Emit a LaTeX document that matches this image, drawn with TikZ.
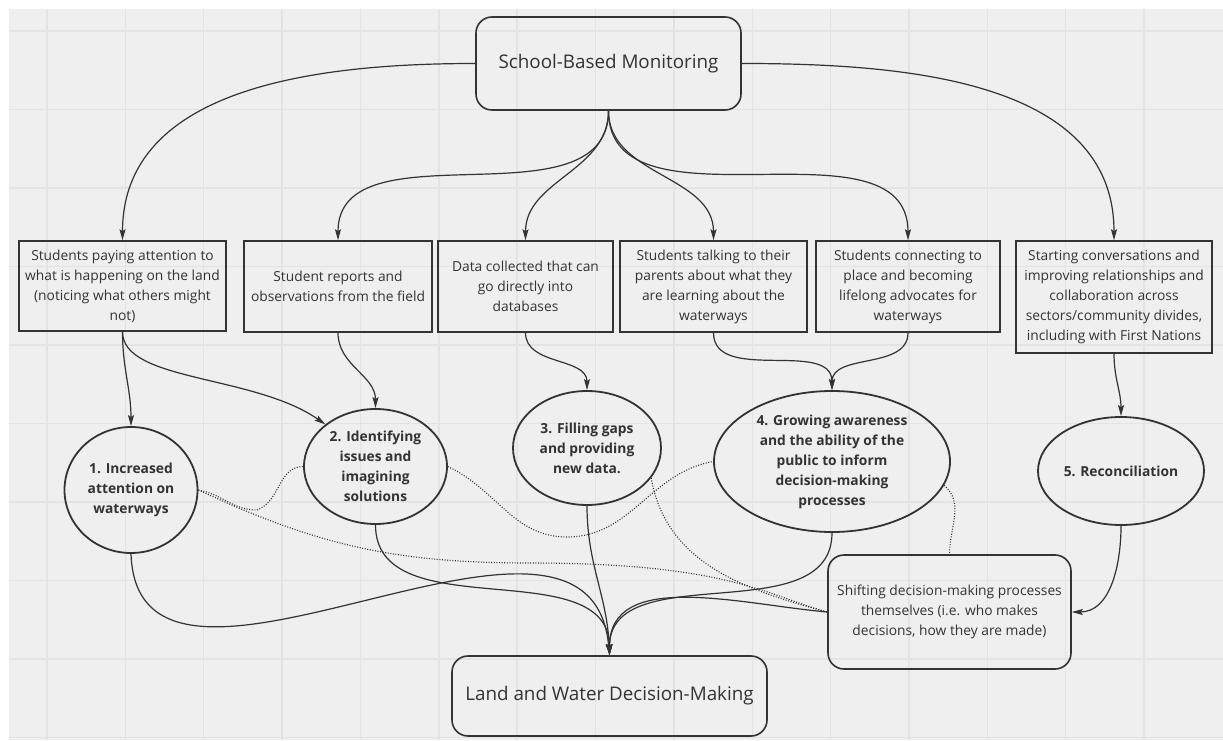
\documentclass[tikz,border=0pt]{standalone}
\usepackage{fontspec}
\setmainfont{Open Sans}
\usepackage{xcolor}
\usepackage{tikz}
\usetikzlibrary{shapes.geometric, arrows.meta}

\definecolor{bggray}{HTML}{EFEFEF}
\definecolor{gridgray}{HTML}{E3E3E3}
\definecolor{ink}{HTML}{333333}

\begin{document}
\begin{tikzpicture}[x=1pt, y=1pt,
    every node/.style={text=ink},
    txt/.style={font=\fontsize{13.8}{20}\selectfont},
    bigtxt/.style={font=\fontsize{18.8}{24}\selectfont},
    rbox/.style={draw=ink, line width=1.6pt, rounded corners=16pt, align=center, inner sep=2pt},
    sbox/.style={draw=ink, line width=1.5pt, align=center, inner sep=2pt, txt},
    oval/.style={ellipse, draw=ink, line width=1.8pt, align=center, inner sep=0pt, font=\bfseries\fontsize{13.8}{20}\selectfont},
    link/.style={draw=ink, line width=1.2pt, -{Stealth[length=11pt, width=6pt, inset=2pt]}},
    dots/.style={draw=ink, line width=1.1pt, dash pattern=on 1pt off 1.6pt}]
      \useasboundingbox (0,0) rectangle (1223,740);
      \fill[bggray] (9,0) rectangle (1223,731);
      \foreach \gx in {0,...,14}
        \draw[gridgray, line width=1.5pt] ({47+78.36*\gx},0) -- ({47+78.36*\gx},731);
      \foreach \gy in {0,...,9}
        \draw[gridgray, line width=1.5pt] (9,{709-78.5*\gy}) -- (1223,{709-78.5*\gy});

      \node[rbox, bigtxt, minimum width=265pt, minimum height=93pt] (sbm) at (608.5,676.5) {School-Based Monitoring};

      \node[sbox, minimum width=207pt, minimum height=90pt] (b1) at (122.5,454) {Students paying attention to\\what is happening on the land\\(noticing what others might\\not)};
      \node[sbox, minimum width=188pt, minimum height=91pt] (b2) at (338,453.5) {Student reports and\\observations from the field};
      \node[sbox, minimum width=175pt, minimum height=91pt] (b3) at (525.5,453.5) {Data collected that can\\go directly into\\databases};
      \node[sbox, minimum width=187pt, minimum height=91pt] (b4) at (713.5,453.5) {Students talking to their\\parents about what they\\are learning about the\\waterways};
      \node[sbox, minimum width=184pt, minimum height=91pt] (b5) at (908,453.5) {Students connecting to\\place and becoming\\lifelong advocates for\\waterways};
      \node[sbox, minimum width=196pt, minimum height=112pt] (b6) at (1114,443) {Starting conversations and\\improving relationships and\\collaboration across\\sectors/community divides,\\including with First Nations};

      \node[oval, minimum width=133pt, minimum height=126pt] (c1) at (131,250) {1. Increased\\attention on\\waterways};
      \node[oval, minimum width=143pt, minimum height=115pt] (c2) at (375.5,273.5) {2. Identifying\\issues and\\imagining\\solutions};
      \node[oval, minimum width=148pt, minimum height=114pt] (c3) at (587,292) {3. Filling gaps\\and providing\\new data.};
      \node[oval, minimum width=236pt, minimum height=141pt] (c4) at (832,278.5) {4. Growing awareness\\and the ability of the\\public to inform\\decision-making\\processes};
      \node[oval, minimum width=166pt, minimum height=108pt] (c5) at (1121,269) {5. Reconciliation};

      \node[rbox, txt, minimum width=243pt, minimum height=114pt] (shift) at (949.5,128) {Shifting decision-making processes\\themselves (i.e. who makes\\decisions, how they are made)};
      \node[rbox, bigtxt, minimum width=315pt, minimum height=80pt] (lwdm) at (609.5,44) {Land and Water Decision-Making};

      \draw[link] (sbm.west) to[out=180, in=90] (b1.north);
      \draw[link] (sbm.east) to[out=0, in=90] (b6.north);
      \foreach \b in {b2,b3,b4,b5}
        \draw[link] (sbm.south) to[out=-90, in=90] (\b.north);

      \draw[link] (b1.south) to[out=-90, in=90] (c1.north);
      \draw[link] (b1.south) to[out=-90, in=145, out distance=50pt] (c2.140);
      \draw[link] (b2.south) to[out=-90, in=90] (c2.north);
      \draw[link] (b3.south) to[out=-90, in=90] (c3.north);
      \draw[link] (b4.south) to[out=-90, in=90] (c4.north);
      \draw[link] (b5.south) to[out=-90, in=90] (c4.north);
      \draw[link] (b6.south) to[out=-90, in=90] (c5.north);

      \draw[link] (c1.south) to[out=-88, in=95, out distance=207pt, in distance=216pt] (lwdm.north);
      \draw[link] (c2.south) to[out=-90, in=90] (lwdm.north);
      \draw[link] (c3.south) to[out=-90, in=92] (lwdm.north);
      \draw[link] (c4.south) to[out=-90, in=90] (lwdm.north);
      \draw[link] (shift.west) to[out=175, in=90] (lwdm.north);
      \draw[link] (c5.south) to[out=-90, in=0] (shift.east);

      \coordinate (dipA) at (530,177);
      \coordinate (dipB) at (257,230);
      \coordinate (dipC) at (567,203);
      \draw[dots] (c1.east) to[out=-25, in=180] (dipA) to[out=0, in=165, out distance=200pt, in distance=60pt] (shift.west);
      \draw[dots] (c1.east) to[out=-10, in=180] (dipB) to[out=20, in=180] (c2.west);
      \draw[dots] (c2.east) to[out=-25, in=180] (dipC) to[out=0, in=190] (c4.west);
      \draw[dots] (c3.-25) to[out=-80, in=165] (shift.west);
      \draw[dots] (c4.-12) to[out=-40, in=90] (shift.north);
\end{tikzpicture}
\end{document}
